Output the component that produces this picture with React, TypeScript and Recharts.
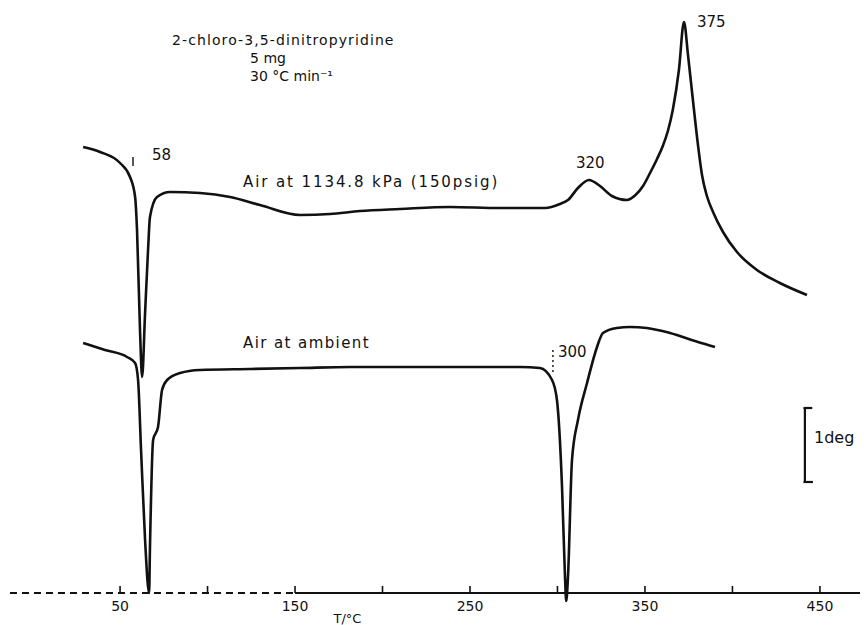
import React from "react";
import { LineChart, Line, XAxis, YAxis, ReferenceLine, ReferenceDot } from "recharts";

// DTA trace in air at 1134.8 kPa (temperature °C, deflection in arbitrary units)
const upperT = [28.9, 38.6, 50, 55.7, 58.6, 59.7, 61.4, 62.6, 64.3, 66, 67.1, 71.1, 78.6, 95.7, 112.9, 130, 152.9, 170, 187.1, 210, 238.6, 267.1, 292.9, 301.4, 306, 311.7, 318, 324.3, 331.1, 339.7, 344.6, 348.9, 352.9, 356.9, 360.2, 363.1, 366, 369.4, 372.3, 374.6, 377.4, 380.3, 382.6, 385.4, 388.9, 394.6, 402.6, 414, 427.1, 442.6];
const upperV = [446, 441, 430, 416, 396, 363, 263, 216, 280, 343, 376, 396, 401, 400, 396, 388, 378, 379, 382, 384, 386, 385, 385, 389, 393, 405, 413, 407, 397, 393, 398, 407, 420, 434, 447, 462, 484, 523, 571, 538, 493, 448, 418, 397, 381, 361, 341, 323, 310, 298];

// DTA trace in air at ambient pressure
const lowerT = [28.9, 41.4, 54, 58.6, 60.3, 62, 64.3, 66.6, 67.1, 68.9, 71.7, 74, 76.9, 84.3, 95.7, 124.3, 152.9, 181.4, 210, 238.6, 267.1, 278.6, 290, 296.9, 299.7, 302.6, 304.3, 305, 306, 308.3, 311.7, 316.9, 322.6, 326, 334, 341.4, 351.1, 364.3, 380.3, 390];
const lowerV = [250, 243, 236, 230, 213, 143, 53, 0, 46, 153, 166, 203, 213, 220, 223, 224, 225, 226, 226, 226, 226, 226, 225, 213, 193, 106, 16, -8, 16, 133, 173, 210, 246, 260, 265, 266, 265, 260, 251, 246];

const tickValues = [50, 100, 150, 200, 250, 300, 350, 400, 450];
const tickLabels = ["50", "", "150", "", "250", "", "350", "", "450"];

const upper = upperT.map((t, i) => ({ t, v: upperV[i] }));
const lower = lowerT.map((t, i) => ({ t, v: lowerV[i] }));

const INK = "#111";
const FONT = "'DejaVu Sans', sans-serif";

// axis tick: short mark pointing up from the baseline, label below
const AxisTick = (props: any) => {
  const { x, y, payload } = props;
  const i = tickValues.indexOf(payload.value);
  const base = y - 20;
  return (
    <g>
      <line x1={x} x2={x} y1={base} y2={base - 7} stroke={INK} strokeWidth={1.6} />
      <text x={x} y={base + 18} textAnchor="middle" fontSize={14} fontFamily={FONT} fill={INK}>
        {tickLabels[i]}
      </text>
    </g>
  );
};

const note = (text: string, size = 14, spacing = 0) => (props: any) => (
  <text
    x={props.viewBox.x}
    y={props.viewBox.y}
    dy="0.35em"
    fontSize={size}
    fontFamily={FONT}
    letterSpacing={spacing}
    fill={INK}
  >
    {text}
  </text>
);

export default function App() {
  return (
    <div style={{ position: "absolute", left: 0, top: 0, background: "#fff" }}>
      <LineChart width={867} height={625} margin={{ top: 0, right: 7, bottom: 0, left: 10 }}>
        <XAxis
          dataKey="t"
          type="number"
          domain={[-12.9, 472.9]}
          ticks={tickValues}
          tick={AxisTick}
          tickLine={false}
          axisLine={false}
          tickSize={0}
          tickMargin={0}
          height={12}
          allowDataOverflow
        />
        <YAxis type="number" domain={[-20, 593]} hide width={0} allowDataOverflow />

        {/* baseline: broken on the left like the scan */}
        <ReferenceLine segment={[{ x: -12.9, y: 0 }, { x: 150, y: 0 }]} stroke={INK} strokeWidth={1.8} strokeDasharray="7 5" />
        <ReferenceLine segment={[{ x: 150, y: 0 }, { x: 472.9, y: 0 }]} stroke={INK} strokeWidth={1.8} />

        <Line data={upper} dataKey="v" type="monotone" stroke={INK} strokeWidth={2.6} dot={false} isAnimationActive={false} />
        <Line data={lower} dataKey="v" type="monotone" stroke={INK} strokeWidth={2.6} dot={false} isAnimationActive={false} />

        {/* 1 deg scale bar */}
        <ReferenceLine segment={[{ x: 441.4, y: 111 }, { x: 441.4, y: 185 }]} stroke={INK} strokeWidth={2.2} />
        <ReferenceLine segment={[{ x: 440.6, y: 185 }, { x: 445.6, y: 185 }]} stroke={INK} strokeWidth={2.2} />
        <ReferenceLine segment={[{ x: 440.6, y: 111 }, { x: 446, y: 111 }]} stroke={INK} strokeWidth={2.2} />

        {/* peak markers */}
        <ReferenceLine segment={[{ x: 57.4, y: 427 }, { x: 57.4, y: 436 }]} stroke={INK} strokeWidth={1.4} />
        <ReferenceLine segment={[{ x: 297.4, y: 221 }, { x: 297.4, y: 245 }]} stroke={INK} strokeWidth={1.4} strokeDasharray="2 3" />

        <ReferenceDot x={79.7} y={553} r={0} label={note("2-chloro-3,5-dinitropyridine", 14, 1.1)} />
        <ReferenceDot x={124.3} y={535} r={0} label={note("5 mg", 14)} />
        <ReferenceDot x={124.3} y={517} r={0} label={note("30 °C min⁻¹", 14)} />
        <ReferenceDot x={68.3} y={438} r={0} label={note("58", 15)} />
        <ReferenceDot x={120.3} y={411} r={0} label={note("Air at 1134.8 kPa (150psig)", 15, 1.9)} />
        <ReferenceDot x={310.6} y={430} r={0} label={note("320", 15)} />
        <ReferenceDot x={379.7} y={571} r={0} label={note("375", 15)} />
        <ReferenceDot x={120.3} y={250} r={0} label={note("Air at ambient", 15, 1.4)} />
        <ReferenceDot x={300.3} y={241} r={0} label={note("300", 15)} />
        <ReferenceDot x={446.6} y={156} r={0} label={note("1deg", 16)} />
        <ReferenceDot x={172} y={-25} r={0} ifOverflow="visible" label={note("T/°C", 13)} />
      </LineChart>
    </div>
  );
}
